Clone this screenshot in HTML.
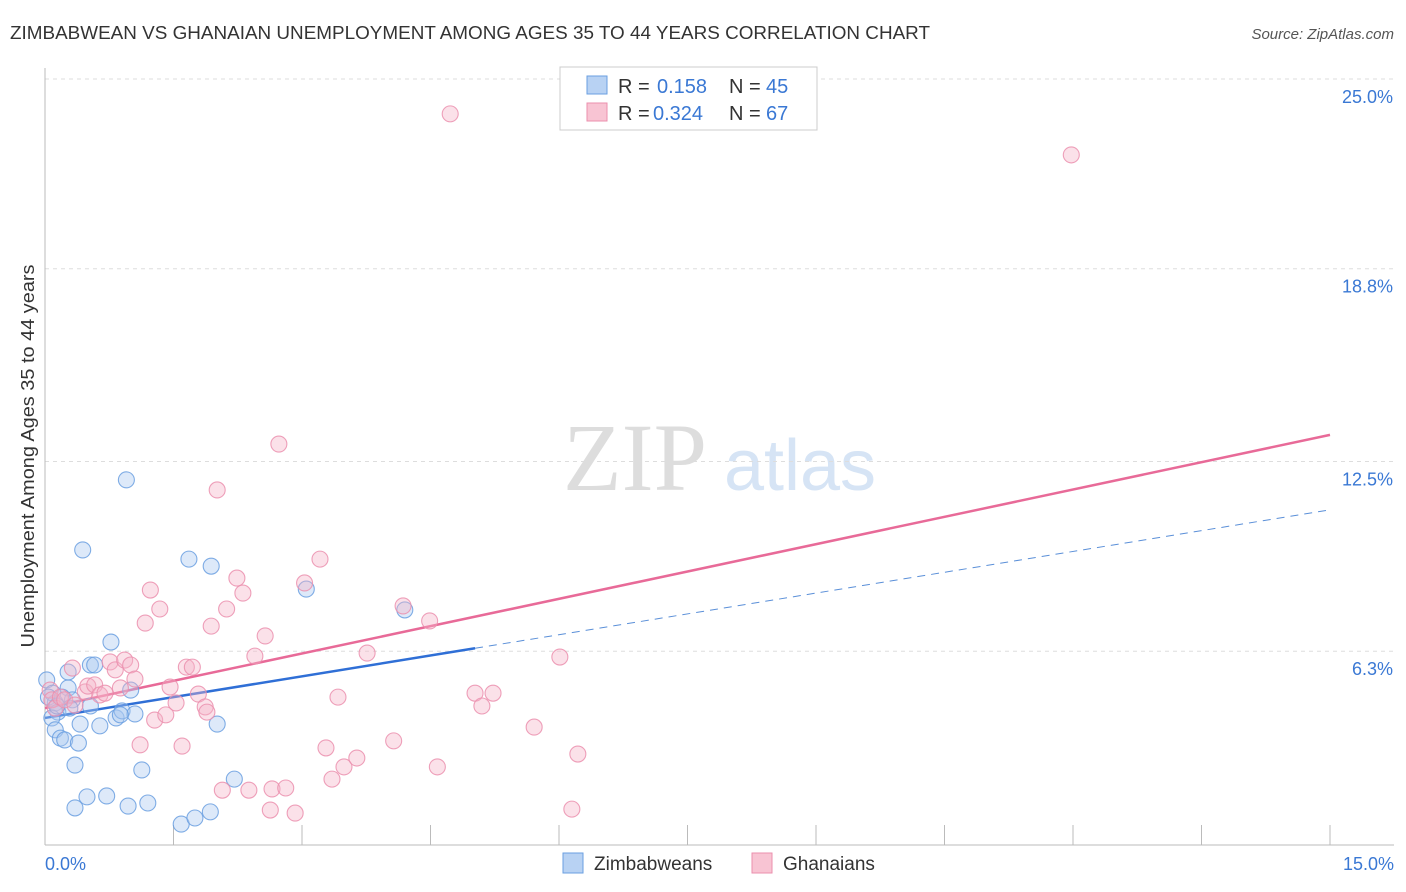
<!DOCTYPE html>
<html><head><meta charset="utf-8">
<style>
body{margin:0;background:#fff;font-family:"Liberation Sans",sans-serif;}
svg{display:block}
</style></head>
<body>
<svg id="chart" width="1406" height="892">
<text x="10" y="39" font-size="18" fill="#333" textLength="920" lengthAdjust="spacingAndGlyphs">ZIMBABWEAN VS GHANAIAN UNEMPLOYMENT AMONG AGES 35 TO 44 YEARS CORRELATION CHART</text>
<text x="1394" y="39" font-size="15" fill="#555" font-style="italic" text-anchor="end">Source: ZipAtlas.com</text>
<text x="34" y="456" font-size="18" fill="#333" text-anchor="middle" textLength="383" lengthAdjust="spacingAndGlyphs" transform="rotate(-90 34 456)">Unemployment Among Ages 35 to 44 years</text>
<g><text x="635" y="490" font-size="96" fill="#ddd" font-family="Liberation Serif" text-anchor="middle">ZIP</text><text x="800" y="490" font-size="72" fill="#d6e4f5" text-anchor="middle">atlas</text></g>
<g id="grid"></g><g id="axes"></g><g id="lines"></g><g id="pts"></g>
<g>
<rect x="560" y="67" width="257" height="63" fill="#fff" stroke="#ccc"/>
<rect x="587" y="76" width="20" height="18" fill="#b8d2f3" stroke="#6a9fe0"/>
<text x="618" y="93" font-size="20" fill="#333">R =</text><text x="657" y="93" font-size="20" fill="#3a78d4">0.158</text>
<text x="729" y="93" font-size="20" fill="#333">N =</text><text x="766" y="93" font-size="20" fill="#3a78d4">45</text>
<rect x="587" y="103" width="20" height="18" fill="#f8c4d3" stroke="#eb8fae"/>
<text x="618" y="120" font-size="20" fill="#333">R =</text><text x="653" y="120" font-size="20" fill="#3a78d4">0.324</text>
<text x="729" y="120" font-size="20" fill="#333">N =</text><text x="766" y="120" font-size="20" fill="#3a78d4">67</text>
</g>
<g>
<rect x="563" y="853" width="20" height="20" fill="#b8d2f3" stroke="#6a9fe0"/>
<text x="594" y="870" font-size="19" fill="#333">Zimbabweans</text>
<rect x="752" y="853" width="20" height="20" fill="#f8c4d3" stroke="#eb8fae"/>
<text x="783" y="870" font-size="19" fill="#333">Ghanaians</text>
</g>
</svg>
<script>
const yTicks=[25.0,18.8,12.5,6.3];
const yTickLabels=["25.0%","18.8%","12.5%","6.3%"];
const xTickCount=10;
const blueX=[0.02,0.09,0.12,0.15,0.08,0.12,0.18,0.23,0.27,0.27,0.32,0.35,0.35,0.39,0.41,0.44,0.49,0.53,0.58,0.53,0.64,0.72,0.77,0.83,0.90,0.95,0.97,1.0,1.05,1.13,1.2,1.59,1.68,1.75,1.93,1.94,2.01,2.21,3.05,4.2,0.04,0.2,0.29,0.14,0.88];
const blueY=[5.36,4.93,4.61,4.31,4.12,3.73,3.46,3.4,5.1,5.62,4.71,2.58,1.18,3.3,3.92,9.61,1.54,5.85,5.85,4.51,3.86,1.57,6.6,4.12,4.35,11.9,1.24,5.03,4.25,2.42,1.34,0.65,9.31,0.85,1.05,9.08,3.92,2.12,8.33,7.65,4.8,4.8,4.44,4.51,4.22];
const pinkX=[0.06,0.08,0.12,0.18,0.23,0.32,0.35,0.47,0.5,0.58,0.64,0.7,0.76,0.82,0.88,0.93,1.0,1.05,1.11,1.17,1.23,1.28,1.34,1.41,1.46,1.53,1.6,1.65,1.72,1.79,1.87,1.89,1.94,2.01,2.07,2.12,2.24,2.31,2.38,2.45,2.57,2.63,2.65,2.73,2.81,2.92,3.03,3.21,3.28,3.35,3.42,3.49,3.64,3.76,4.07,4.18,4.49,4.58,4.73,5.02,5.1,5.23,5.71,6.01,6.15,6.22,11.98];
const pinkY=[5.03,4.71,4.44,4.8,4.71,5.75,4.54,4.97,5.16,5.2,4.87,4.93,5.95,5.69,5.1,6.01,5.85,5.39,3.24,7.22,8.3,4.05,7.68,4.22,5.13,4.61,3.2,5.78,5.78,4.9,4.48,4.31,7.12,11.57,1.76,7.68,8.69,8.2,1.76,6.14,6.8,1.11,1.8,13.07,1.83,1.01,8.53,9.31,3.14,2.12,4.8,2.52,2.81,6.24,3.37,7.78,7.29,2.52,23.86,4.93,4.51,4.93,3.82,6.11,1.14,2.94,22.52];
const blueLine=[4.12,10.92], blueSolidEnd=5.02;
const pinkLine=[4.44,13.37];
const NS="http://www.w3.org/2000/svg";
const xs=v=>45+v*(1285/15), ys=v=>844-v*30.6;
function mk(t,a,p){const e=document.createElementNS(NS,t);for(const k in a)e.setAttribute(k,a[k]);p.appendChild(e);return e;}
const grid=document.getElementById('grid'),axes=document.getElementById('axes');
yTicks.forEach((v,i)=>{
 const l=mk('line',{x1:45,x2:1394,y1:ys(v),y2:ys(v),stroke:'#ddd','stroke-dasharray':'4,4'},grid);
 
 
 const t=mk('text',{x:1393,y:ys(v)+24,'font-size':18,fill:'#3a78d4','text-anchor':'end'},axes);
 t.textContent=yTickLabels[i];
 
 
});
const ax=mk('line',{x1:45,x2:1394,y1:845,y2:845,stroke:'#bbb'},axes);


const ay=mk('line',{x1:45,x2:45,y1:68,y2:845,stroke:'#bbb'},axes);


for(let i=0;i<=xTickCount;i++){const x=xs(i*15/xTickCount);
 const t=mk('line',{x1:x,x2:x,y1:825,y2:845,stroke:'#bbb'},axes);
 
 }
const xl0=mk('text',{x:45,y:870,'font-size':18,fill:'#3a78d4'},axes);xl0.textContent='0.0%';


const xl1=mk('text',{x:1394,y:870,'font-size':18,fill:'#3a78d4','text-anchor':'end'},axes);xl1.textContent='15.0%';


const pts=document.getElementById('pts');
function dots(X,Y,fill,stroke,name){X.forEach((x,i)=>{const c=mk('circle',{cx:xs(x),cy:ys(Y[i]),r:8,fill:fill,'fill-opacity':0.4,stroke:stroke,'stroke-width':1.1,'stroke-opacity':0.85},pts);
 
 });}
dots(blueX,blueY,'#a9c8f0','#6a9fe0','zimbabwean-point');
dots(pinkX,pinkY,'#f5b5c8','#eb8fae','ghanaian-point');
const lines=document.getElementById('lines');
const bAt=v=>blueLine[0]+(blueLine[1]-blueLine[0])*v/15;
const b1=mk('line',{x1:xs(0),y1:ys(bAt(0)),x2:xs(blueSolidEnd),y2:ys(bAt(blueSolidEnd)),stroke:'#2f6fd6','stroke-width':2.5},lines);


const b2=mk('line',{x1:xs(blueSolidEnd),y1:ys(bAt(blueSolidEnd)),x2:xs(15),y2:ys(bAt(15)),stroke:'#5a8fd8','stroke-width':1,'stroke-dasharray':'8,6'},lines);


const p1=mk('line',{x1:xs(0),y1:ys(pinkLine[0]),x2:xs(15),y2:ys(pinkLine[1]),stroke:'#e86a98','stroke-width':2.5},lines);


</script>
</body></html>
